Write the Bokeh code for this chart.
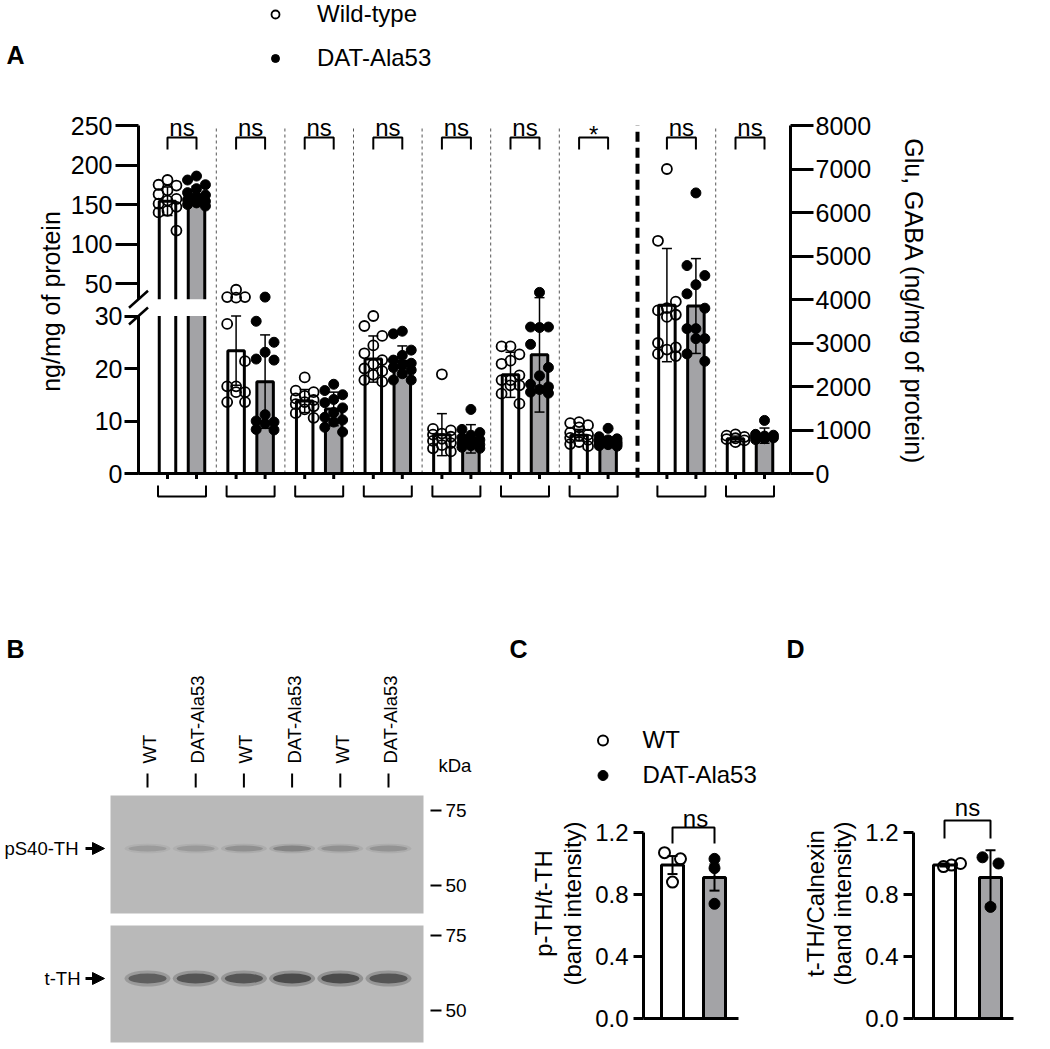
import math
from bokeh.plotting import figure
from bokeh.models import (Range1d, LinearAxis, FixedTicker, CustomJSTickFormatter,
                          NumeralTickFormatter, Label, Legend, LegendItem, Arrow, NormalHead)
from bokeh.layouts import column, row
from bokeh.embed import file_html
from bokeh.resources import INLINE
from bokeh.core.properties import value

FONT = "Liberation Sans"

# ---------------- Panel A data ----------------
analytes = ["Analyte 1", "Analyte 2", "Analyte 3", "Analyte 4", "Analyte 5",
            "Analyte 6", "Analyte 7", "Glu", "GABA"]
axis_of = ["left"] * 7 + ["right"] * 2
significance = ["ns", "ns", "ns", "ns", "ns", "ns", "*", "ns", "ns"]
wt_mean = [154, 23.4, 13.8, 21.8, 7.4, 18.8, 7.3, 3870, 800]
wt_sd = [18, 6.6, 2.2, 4.4, 4.0, 4.3, 1.1, 1300, 60]
dat_mean = [162, 17.5, 12.3, 21.4, 6.6, 22.6, 6.0, 3850, 870]
dat_sd = [11, 8.9, 3.2, 2.9, 2.7, 10.9, 0.9, 1090, 175]
wt_points = [
    [181, 175, 174, 168, 163, 157, 155, 151, 147, 142, 140, 117],
    [35.0, 33.6, 33.6, 33.5, 28.5, 21.4, 16.6, 16.6, 15.5, 15.5, 13.6, 13.6],
    [18.3, 15.8, 15.5, 14.8, 14.3, 14.0, 13.6, 13.2, 12.8, 12.2, 11.5, 10.6],
    [30.0, 28.1, 26.2, 24.4, 22.9, 21.6, 20.8, 20.0, 19.5, 18.8, 17.8, 17.5],
    [18.9, 8.5, 8.2, 7.6, 7.4, 7.0, 6.6, 6.2, 5.8, 5.4, 4.8, 4.2],
    [24.2, 24.2, 22.7, 21.5, 20.9, 18.7, 17.8, 17.8, 16.8, 16.8, 15.2, 13.3],
    [9.8, 9.6, 9.2, 8.8, 7.8, 7.4, 7.2, 6.8, 6.4, 6.0, 5.6, 5.2],
    [7000, 5350, 3950, 3800, 3750, 3650, 3600, 3000, 2900, 2850, 2750, 2700],
    [900, 870, 840, 810, 790, 760, 720],
]
dat_points = [
    [186, 181, 175, 170, 165, 162, 159, 156, 154, 152, 150, 148],
    [33.6, 29.0, 25.0, 23.1, 21.8, 21.6, 11.2, 10.0, 9.8, 9.5, 8.4, 8.3],
    [17.0, 15.8, 15.0, 14.1, 13.5, 12.5, 11.6, 10.7, 10.2, 9.8, 8.8, 7.9],
    [27.1, 26.6, 23.5, 22.5, 21.6, 21.0, 20.6, 20.2, 19.7, 19.0, 17.8, 17.8],
    [12.2, 8.4, 7.8, 7.3, 6.8, 6.4, 6.0, 5.8, 5.5, 5.3, 5.0, 4.8],
    [34.5, 27.9, 27.9, 27.8, 24.6, 20.2, 18.6, 17.0, 16.5, 16.0, 15.5, 15.3],
    [8.6, 7.0, 6.6, 6.4, 6.2, 6.0, 5.9, 5.8, 5.6, 5.5, 5.3, 5.2],
    [6450, 4780, 4550, 4340, 4130, 3800, 3330, 3330, 3100, 3100, 2750, 2580],
    [1220, 900, 880, 860, 840, 820, 800, 780],
]
left_ticks_lower = [0, 10, 20, 30]
left_ticks_upper = [50, 100, 150, 200, 250]
right_ticks = [0, 1000, 2000, 3000, 4000, 5000, 6000, 7000, 8000]
legend_labels_A = ["Wild-type", "DAT-Ala53"]
left_label = "ng/mg of protein"
right_label = "Glu, GABA (ng/mg of protein)"

# ---------------- Panel B data ----------------
lanes = ["WT", "DAT-Ala53", "WT", "DAT-Ala53", "WT", "DAT-Ala53"]
blot_names = ["pS40-TH", "t-TH"]
ps40_intensity = [0.20, 0.22, 0.28, 0.38, 0.28, 0.26]
tth_intensity = [0.70, 0.80, 0.80, 0.90, 0.90, 0.80]
mw_markers = ["75", "50"]

# ---------------- Panels C, D data ----------------
cd_groups = ["WT", "DAT-Ala53"]
c_mean = [0.99, 0.91]
c_err = [0.058, 0.085]
c_wt_pts = [1.07, 1.03, 0.88]
c_dat_pts = [1.03, 0.97, 0.74]
c_sig = "ns"
c_label = ["p-TH/t-TH", "(band intensity)"]
d_mean = [0.99, 0.91]
d_err = [0.01, 0.175]
d_wt_pts = [0.98, 0.99, 1.00]
d_dat_pts = [1.04, 1.00, 0.72]
d_sig = "ns"
d_label = ["t-TH/Calnexin", "(band intensity)"]
cd_ticks = [0, 0.4, 0.8, 1.2]

GRAY = "#a3a3a6"


def style_axis(ax, size, tick_out, standoff):
    ax.axis_line_width = 3
    ax.axis_line_color = "black"
    ax.major_tick_line_width = 3
    ax.major_tick_line_color = "black"
    ax.major_tick_out = tick_out
    ax.major_tick_in = 0
    ax.minor_tick_line_color = None
    ax.major_label_text_font = FONT
    ax.major_label_text_font_size = size
    ax.major_label_text_color = "black"
    ax.major_label_standoff = standoff


def add_axis(p, side, loc, ticks, size, tick_out, standoff, fmt=None, bounds=None,
             rng=None, line=True):
    kw = dict(ticker=FixedTicker(ticks=ticks), fixed_location=loc)
    if rng:
        kw["y_range_name"] = rng
    ax = LinearAxis(**kw)
    if fmt is not None:
        ax.formatter = fmt
    if bounds is not None:
        ax.bounds = bounds
    style_axis(ax, size, tick_out, standoff)
    if not line:
        ax.axis_line_color = None
    p.add_layout(ax, side)
    return ax


def letter(p, x, y, t):
    p.add_layout(Label(x=x, y=y, text=t, text_font=FONT, text_font_style="bold",
                       text_font_size="25px", text_align="center", text_baseline="middle",
                       text_color="black"))


def base_fig(w, h, xr, yr):
    p = figure(width=w, height=h, x_range=xr, y_range=yr, x_axis_location=None,
               y_axis_location=None, toolbar_location=None, output_backend="svg",
               min_border=0, outline_line_color=None, background_fill_color="white")
    p.grid.visible = False
    return p


# ======================= PANEL A =======================
PXX, PXY = 68.6, 5.25
WA, HA = 1050, 503
G0 = 181.5
Y0 = 473
x_start = -G0 / PXX
x_end = (WA - G0) / PXX
y_start = -(HA - Y0) / PXY
y_end = Y0 / PXY
Y_TOP = (Y0 - 125) / PXY
K = 8000 / Y_TOP
D50 = (Y0 - 283) / PXY
SLOPE = (Y_TOP - D50) / 200.0
D30U = D50 - 20 * SLOPE
AX_X = (138 - G0) / PXX
RX = (790 - G0) / PXX


def up(v):
    return D50 + (v - 50) * SLOPE


def tf(i, v):
    return up(v) if i == 0 else v


pA = base_fig(WA, HA, Range1d(x_start, x_end), Range1d(y_start, y_end))
pA.extra_y_ranges = {"glu": Range1d(y_start * K, y_end * K)}

n = len(analytes)
gx = [i + (0.28 if i >= 7 else 0.0) for i in range(n)]
OFF = 14.5 / PXX
BW = 16.5 / PXX
CAP = 10 / PXX
JIT = [0.0, -0.13, 0.13]
wt_x = [g - OFF for g in gx]
dat_x = [g + OFF for g in gx]
left_idx = [i for i in range(n) if axis_of[i] == "left"]
right_idx = [i for i in range(n) if axis_of[i] == "right"]

# separators
sep_thin = [(gx[i] + gx[i + 1]) / 2 for i in range(n - 1) if axis_of[i] == axis_of[i + 1]]
sep_thick = [(gx[i] + gx[i + 1]) / 2 for i in range(n - 1) if axis_of[i] != axis_of[i + 1]]
pA.segment(x0=sep_thin, y0=0, x1=sep_thin, y1=Y_TOP, line_color="#555555", line_width=1,
           line_dash="3 3")
pA.segment(x0=sep_thick, y0=-0.8, x1=sep_thick, y1=Y_TOP, line_color="black", line_width=4,
           line_dash="10 6")

r_legend = {}
for idx, rng, tr in [(left_idx, None, tf), (right_idx, "glu", lambda i, v: v)]:
    kw = {"y_range_name": rng} if rng else {}
    for xs, means, fill in [(wt_x, wt_mean, "white"), (dat_x, dat_mean, GRAY)]:
        pA.vbar(x=[xs[i] for i in idx], top=[tr(i, means[i]) for i in idx], bottom=0,
                width=BW, fill_color=fill, line_color="black", line_width=3, **kw)
    if rng is None:
        # broken-axis gap across the first group
        pA.quad(left=AX_X, right=0.47, bottom=30, top=D30U, fill_color="white",
                line_color=None)
    for xs, means, sds, pts, key in [(wt_x, wt_mean, wt_sd, wt_points, "wt"),
                                     (dat_x, dat_mean, dat_sd, dat_points, "dat")]:
        bx = [xs[i] for i in idx]
        lo = [tr(i, means[i] - sds[i]) for i in idx]
        hi = [tr(i, means[i] + sds[i]) for i in idx]
        pA.segment(x0=bx, y0=lo, x1=bx, y1=hi, line_color="black", line_width=1.5, **kw)
        pA.segment(x0=[b - CAP / 2 for b in bx] * 2, y0=lo + hi,
                   x1=[b + CAP / 2 for b in bx] * 2, y1=lo + hi,
                   line_color="black", line_width=1.5, **kw)
        px, py = [], []
        for i in idx:
            for k, v in enumerate(sorted(pts[i], reverse=True)):
                px.append(xs[i] + JIT[k % 3])
                py.append(tr(i, v))
        if key == "wt":
            r = pA.scatter(x=px, y=py, marker="circle", size=10, fill_color=None,
                           line_color="black", line_width=1.8, **kw)
        else:
            r = pA.scatter(x=px, y=py, marker="circle", size=10, fill_color="black",
                           line_color="black", line_width=1, **kw)
        if rng is None:
            r_legend[key] = r

# top comparison brackets and labels
BR_TOP, BR_LEG = (Y0 - 137) / PXY, (Y0 - 149) / PXY
pA.multi_line(xs=[[wt_x[i], wt_x[i], dat_x[i], dat_x[i]] for i in range(n)],
              ys=[[BR_LEG, BR_TOP, BR_TOP, BR_LEG] for i in range(n)],
              line_color="black", line_width=2)
pA.text(x=gx, y=[(Y0 - 127) / PXY if s == "ns" else (Y0 - 134) / PXY for s in significance],
        text=significance, text_align="center", text_baseline="alphabetic",
        text_font=value(FONT), text_font_size="24px", text_color="black")

# bottom group brackets
HW = 9.5 / PXX
B1, B2 = -(485 - Y0) / PXY, -(496 - Y0) / PXY
pA.multi_line(xs=[[wt_x[i] - HW, wt_x[i] - HW, dat_x[i] + HW, dat_x[i] + HW] for i in range(n)],
              ys=[[B1, B2, B2, B1] for i in range(n)], line_color="black", line_width=2)

# x baseline and ticks
pA.segment(x0=[AX_X], y0=[0], x1=[RX], y1=[0], line_color="black", line_width=3)
allx = wt_x + dat_x
pA.segment(x0=allx, y0=0, x1=allx, y1=-5.5 / PXY, line_color="black", line_width=3)

# left axis line with break marks
pA.segment(x0=[AX_X], y0=[-0.2], x1=[AX_X], y1=[Y_TOP], line_color="black", line_width=3)
dxb, ddb = 9.5 / PXX, 8.5 / PXY
pA.patch(x=[AX_X - dxb, AX_X + dxb, AX_X + dxb, AX_X - dxb],
         y=[30 - ddb, 30 + ddb, D30U + ddb, D30U - ddb], fill_color="white", line_color=None)
pA.segment(x0=[AX_X - dxb] * 2, y0=[30 - ddb, D30U - ddb], x1=[AX_X + dxb] * 2,
           y1=[30 + ddb, D30U + ddb], line_color="black", line_width=2.5)

fmt_up = CustomJSTickFormatter(args=dict(d50=D50, slope=SLOPE), code="""
    return Math.round(50 + (tick - d50) / slope).toString();
""")
add_axis(pA, "left", AX_X, left_ticks_lower, "25px", 14, 2, line=False)
add_axis(pA, "left", AX_X, [up(v) for v in left_ticks_upper], "25px", 23, 3, fmt=fmt_up,
         line=False)
add_axis(pA, "right", RX, right_ticks, "25px", 23, 2, bounds=(0, 8000), rng="glu")

pA.text(x=[(50 - G0) / PXX], y=[(Y0 - 301) / PXY], text=[left_label], angle=math.pi / 2,
        text_align="center", text_baseline="middle", text_font=value(FONT),
        text_font_size="25px", text_color="black")
pA.text(x=[(913 - G0) / PXX], y=[(Y0 - 301) / PXY], text=[right_label], angle=-math.pi / 2,
        text_align="center", text_baseline="middle", text_font=value(FONT),
        text_font_size="25px", text_color="black")

legA = Legend(items=[LegendItem(label=legend_labels_A[0], renderers=[r_legend["wt"]]),
                     LegendItem(label=legend_labels_A[1], renderers=[r_legend["dat"]])],
              location=(265, 430), orientation="vertical", padding=0, margin=0, spacing=14,
              glyph_width=20, glyph_height=30, label_height=30, label_standoff=32,
              label_text_font=FONT, label_text_font_size="24px", label_text_color="black",
              border_line_color=None, background_fill_alpha=0)
pA.add_layout(legA)
letter(pA, (15 - G0) / PXX, (Y0 - 54) / PXY, "A")

# ======================= PANEL B =======================
WB, HB = 500, 546
pB = base_fig(WB, HB, Range1d(0, WB), Range1d(HB, 0))
LANE0, LANE_STEP = 147, 48.2
lane_x = [LANE0 + i * LANE_STEP for i in range(len(lanes))]
pB.text(x=[x + 2 for x in lane_x], y=260, text=lanes, angle=math.pi / 2, text_align="left",
        text_baseline="middle", text_font=value(FONT), text_font_size="18.5px",
        text_color="black")
pB.segment(x0=lane_x, y0=270, x1=lane_x, y1=284, line_color="black", line_width=2)
pB.text(x=[438], y=[262], text=["kDa"], text_align="left", text_baseline="middle",
        text_font=value(FONT), text_font_size="18.5px", text_color="black")
blot_top = [292, 422]
blot_bot = [410, 539]
pB.quad(left=110, right=423, top=blot_top, bottom=blot_bot, fill_color="#b9b9b9",
        line_color=None)
band_y = [345, 475]
for bi, (inten, h) in enumerate([(ps40_intensity, 6), (tth_intensity, 10)]):
    pB.ellipse(x=lane_x, y=band_y[bi], width=46, height=h * 1.6, fill_color="#2a2a2a",
               fill_alpha=[a * 0.3 for a in inten], line_color=None)
    pB.ellipse(x=lane_x, y=band_y[bi], width=38, height=h, fill_color="#2a2a2a",
               fill_alpha=[a * 0.75 for a in inten], line_color=None)
mw_y = [307, 382, 432, 507]
mw_t = mw_markers * 2
pB.segment(x0=430, y0=mw_y, x1=441, y1=mw_y, line_color="black", line_width=2)
pB.text(x=445, y=mw_y, text=mw_t, text_align="left", text_baseline="middle",
        text_font=value(FONT), text_font_size="19px", text_color="black")
pB.text(x=[78, 80], y=band_y, text=blot_names, text_align="right", text_baseline="middle",
        text_font=value(FONT), text_font_size="18.5px", text_color="black")
for yb in band_y:
    pB.add_layout(Arrow(end=NormalHead(size=12, fill_color="black", line_color="black"),
                        x_start=85, y_start=yb, x_end=104, y_end=yb, line_width=3,
                        line_color="black"))
letter(pB, 15, 145, "B")


# ======================= PANELS C, D =======================
def bar_panel(width, ax_px, right_px, wt_c, ppu, means, errs, wt_pts, dat_pts, wt_off,
              dat_off, ylabel, label_x, sig, sig_x, br_y, ns_y, legend, let, let_x):
    H = 546
    Y0c, PY = 515, 155.0
    xs0 = 1 - wt_c / ppu
    xs1 = 1 + (width - wt_c) / ppu
    p = base_fig(width, H, Range1d(xs0, xs1), Range1d(-(H - Y0c) / PY, Y0c / PY))
    ax_x = 1 - (wt_c - ax_px) / ppu
    rx = 1 + (right_px - wt_c) / ppu
    add_axis(p, "left", ax_x, cd_ticks, "24px", 10, 5, fmt=NumeralTickFormatter(format="0.0"),
             bounds=(0, 1.2))
    p.segment(x0=[ax_x], y0=[0], x1=[rx], y1=[0], line_color="black", line_width=3)
    bw = 22 / ppu
    p.vbar(x=[1, 2], top=means, bottom=0, width=bw, fill_color=["white", GRAY],
           line_color="black", line_width=3)
    lo = [m - e for m, e in zip(means, errs)]
    hi = [m + e for m, e in zip(means, errs)]
    cw = 10 / ppu
    p.segment(x0=[1, 2], y0=lo, x1=[1, 2], y1=hi, line_color="black", line_width=2)
    p.segment(x0=[1 - cw / 2, 2 - cw / 2] * 2, y0=lo + hi, x1=[1 + cw / 2, 2 + cw / 2] * 2,
              y1=lo + hi, line_color="black", line_width=2)
    rw = p.scatter(x=[1 + o / ppu for o in wt_off], y=wt_pts, marker="circle", size=11,
                   fill_color=None, line_color="black", line_width=2)
    rd = p.scatter(x=[2 + o / ppu for o in dat_off], y=dat_pts, marker="circle", size=11,
                   fill_color="black", line_color="black", line_width=1)
    b_top, b_leg = (Y0c - br_y[0]) / PY, (Y0c - br_y[1]) / PY
    p.multi_line(xs=[[1, 1, 2, 2]], ys=[[b_leg, b_top, b_top, b_leg]], line_color="black",
                 line_width=2)
    p.text(x=[1 + (sig_x - wt_c) / ppu], y=[(Y0c - ns_y) / PY], text=[sig], text_align="center",
           text_baseline="alphabetic", text_font=value(FONT), text_font_size="24px",
           text_color="black")
    p.text(x=[1 + (lx - wt_c) / ppu for lx in label_x], y=(Y0c - 400) / PY, text=ylabel,
           angle=math.pi / 2, text_align="center", text_baseline="middle",
           text_font=value(FONT), text_font_size="24px", text_color="black")
    if legend:
        lg = Legend(items=[LegendItem(label=cd_groups[0], renderers=[rw]),
                           LegendItem(label=cd_groups[1], renderers=[rd])],
                    location=(89.5, H - 287), orientation="vertical", padding=0,
                    margin=0, spacing=5, glyph_width=25, glyph_height=30, label_height=30,
                    label_standoff=28, label_text_font=FONT, label_text_font_size="24px",
                    label_text_color="black", border_line_color=None,
                    background_fill_alpha=0)
        p.add_layout(lg)
    letter(p, 1 + (let_x - wt_c) / ppu, (Y0c - 145) / PY, let)
    return p


pC = bar_panel(275, 143, 238, 172, 42, c_mean, c_err, c_wt_pts, c_dat_pts,
               [-8, 8, 0], [0, 0, 0], c_label, [43, 72], c_sig, 195, (324, 340), 315, True,
               "C", 18)
pD = bar_panel(275, 138, 238, 169, 46, d_mean, d_err, d_wt_pts, d_dat_pts,
               [-1, 7, 16], [-8, 8, 0], d_label, [40, 67], d_sig, 192, (317, 335), 304, False,
               "D", 20)

layout = column(pA, row(pB, pC, pD))
open("out.html", "w").write(file_html(layout, INLINE))
